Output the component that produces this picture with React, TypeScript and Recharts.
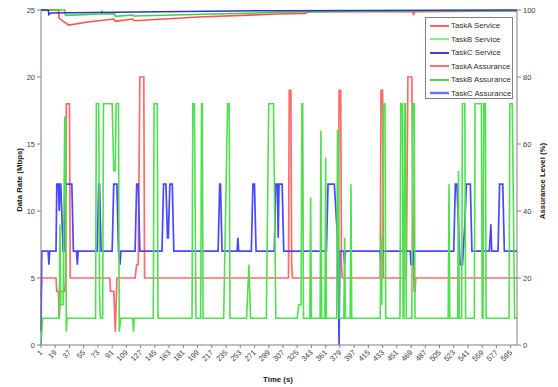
import React from 'react';
import { LineChart, Line, XAxis, YAxis } from 'recharts';

const timeTicks = [1, 19, 37, 55, 73, 91, 109, 127, 145, 163, 181, 199, 217, 235, 253, 271, 289, 307, 325, 343, 361, 379, 397, 415, 433, 451, 469, 487, 505, 523, 541, 559, 577, 595];
const rateTicks = [0, 5, 10, 15, 20, 25];
const assuranceTicks = [0, 20, 40, 60, 80, 100];

// [time, Mbps] change points
const taskAService: [number, number][] = [
  [1, 3.5], [2, 5], [20, 5], [21, 4], [23, 4], [24, 2], [25, 3], [26, 4], [31, 4], [32, 5], [33, 18], [37, 18], [38, 5],
  [88, 5], [89, 4], [93, 4], [95, 1], [97, 5],
  [120, 5], [122, 6], [124, 6], [126, 20], [131, 20], [132, 5],
  [314, 5], [315, 19], [317, 19], [318, 6], [319, 5],
  [377, 5], [378, 19], [380, 19], [381, 6], [382, 5],
  [430, 5], [431, 19], [433, 19], [434, 5],
  [463, 5], [465, 20], [467, 20], [470, 20], [472, 6], [473, 4], [474, 4], [475, 5],
  [603, 5],
];

const taskBService: [number, number][] = [
  [1, 0], [2, 1], [3, 2], [22, 2], [24, 2], [25, 9], [26, 3], [29, 3], [31, 17], [32, 17], [33, 1], [34, 2],
  [70, 2], [71, 18], [74, 18], [75, 4], [76, 2], [79, 2], [80, 18], [91, 18], [93, 13], [95, 13], [96, 18], [99, 18], [100, 1], [102, 2],
  [117, 2], [118, 1], [119, 2],
  [143, 2], [144, 18], [148, 18], [149, 2],
  [192, 2], [193, 18], [195, 18], [197, 2], [203, 2], [204, 18], [205, 18], [206, 2],
  [232, 2], [237, 18], [239, 18], [240, 2],
  [261, 2], [264, 6], [266, 2],
  [286, 2], [289, 18], [295, 18], [298, 2],
  [325, 2], [327, 3], [330, 3], [331, 18], [332, 18], [333, 2],
  [341, 2], [342, 11], [343, 2],
  [354, 2], [355, 16], [356, 2], [360, 2], [361, 14], [362, 2],
  [375, 2], [376, 16], [377, 16], [378, 2],
  [384, 2], [385, 8], [386, 2],
  [392, 2], [393, 12], [394, 2],
  [430, 2], [431, 8], [432, 3], [434, 18], [436, 18], [437, 2],
  [455, 2], [456, 18], [458, 18], [459, 2], [460, 2], [461, 18], [462, 18], [463, 2],
  [470, 2], [471, 18], [473, 18], [474, 2],
  [516, 2], [517, 12], [518, 2],
  [528, 2], [529, 13], [530, 2], [533, 2], [534, 18], [537, 18], [538, 2],
  [549, 2], [550, 18], [558, 18], [559, 2], [560, 2], [561, 18], [563, 18], [564, 2],
  [593, 2], [594, 18], [597, 18], [600, 2], [603, 2],
];

const taskCService: [number, number][] = [
  [1, 1], [2, 7], [10, 7], [11, 6], [12, 7], [20, 7], [21, 12], [23, 12], [24, 10], [25, 12], [26, 12], [29, 7], [30, 7], [32, 12], [40, 12], [42, 7],
  [46, 7], [47, 6], [48, 7],
  [72, 7], [74, 12], [75, 12], [77, 7],
  [91, 7], [93, 12], [97, 12], [99, 7], [101, 6], [102, 7],
  [120, 7], [122, 12], [124, 12], [126, 7],
  [154, 7], [156, 12], [159, 12], [161, 8], [162, 8], [164, 12], [167, 12], [169, 7],
  [225, 7], [227, 12], [228, 12], [230, 7],
  [249, 7], [250, 8], [251, 7],
  [267, 7], [269, 12], [271, 12], [273, 7],
  [296, 7], [298, 12], [300, 12], [301, 8], [302, 12], [306, 12], [308, 7],
  [362, 7], [364, 12], [372, 12], [375, 9], [376, 8], [378, 0], [379, 7], [384, 7], [385, 6], [386, 7],
  [430, 7], [431, 6], [432, 6], [433, 7],
  [468, 7], [469, 6], [471, 6], [472, 7],
  [523, 7], [525, 12], [527, 12], [529, 9], [531, 6], [534, 6], [537, 9], [539, 12], [544, 12], [546, 7],
  [568, 7], [570, 9], [571, 7],
  [579, 7], [581, 12], [585, 12], [587, 7], [603, 7],
];

// [time, %] assurance levels
const taskAAssurance: [number, number][] = [
  [1, 100], [23, 100], [24, 97.5], [36, 95.5], [60, 96.4], [93, 97.3], [95, 96.6], [117, 97.3], [119, 96.8], [200, 97.9], [300, 98.8], [335, 99.0], [340, 99.5], [471, 99.6], [472, 98.8], [474, 99.5], [603, 99.7],
];

const taskBAssurance: [number, number][] = [
  [1, 100], [31, 100], [32, 98.4], [77, 98.8], [78, 99.8], [79, 98.8], [94, 98.9], [95, 98.1], [117, 98.5], [118, 98.2], [300, 99.3], [400, 99.6], [603, 99.8],
];

const taskCAssurance: [number, number][] = [
  [1, 100], [10, 100], [11, 98.6], [13, 99.1], [150, 99.5], [300, 99.8], [603, 100],
];

const legendItems = [
  { name: 'TaskA Service', color: '#ff3030', width: 1.5 },
  { name: 'TaskB Service', color: '#30e830', width: 1.2 },
  { name: 'TaskC Service', color: '#1010c8', width: 1.6 },
  { name: 'TaskA Assurance', color: '#ff7070', width: 2 },
  { name: 'TaskB Assurance', color: '#10c810', width: 1.5 },
  { name: 'TaskC Assurance', color: '#7070ff', width: 2.5 },
];

const pts = (arr: [number, number][]) => arr.map(([t, v]) => ({ t, v }));

const FONT = '"Liberation Sans", Arial, sans-serif';

const TimeTick = (props: any) => {
  const { x, y, payload } = props;
  const ax = x + 2;
  const ay = y + 3;
  return (
    <text x={ax} y={ay} transform={`rotate(-45 ${ax} ${ay})`} textAnchor="end" fontSize={7.5} fill="#404040" fontFamily={FONT}>
      {payload.value}
    </text>
  );
};

const LegendBox = () => (
  <div style={{ position: 'absolute', left: 425, top: 17, width: 88, height: 82, border: '1px solid #808080', background: '#fff', boxSizing: 'border-box', paddingTop: 1 }}>
    {legendItems.map((it) => (
      <div key={it.name} style={{ display: 'flex', alignItems: 'center', height: 13.5, fontFamily: FONT, fontSize: 7.8, color: '#303030', whiteSpace: 'nowrap' }}>
        <svg width={22} height={6} style={{ marginLeft: 3 }}>
          <line x1={1} y1={3} x2={20} y2={3} stroke={it.color} strokeWidth={it.width} />
        </svg>
        <span>{it.name}</span>
      </div>
    ))}
  </div>
);

export default function App() {
  return (
    <div style={{ position: 'absolute', left: 0, top: 0, width: 558, height: 387, background: '#fff' }}>
      <LineChart width={558} height={387} margin={{ top: 10, right: 0, bottom: 0, left: 0 }}>
        <XAxis
          type="number"
          dataKey="t"
          domain={[1, 603]}
          ticks={timeTicks}
          interval={0}
          height={42}
          tick={<TimeTick />}
          tickSize={3}
          tickLine={{ stroke: '#808080' }}
          axisLine={{ stroke: '#808080' }}
        />
        <YAxis
          yAxisId="rate"
          domain={[0, 25]}
          ticks={rateTicks}
          width={41}
          tickSize={4}
          tickLine={{ stroke: '#808080' }}
          axisLine={{ stroke: '#808080' }}
          tick={{ fontSize: 7.5, fill: '#404040', fontFamily: FONT }}
        />
        <YAxis
          yAxisId="assurance"
          orientation="right"
          domain={[0, 100]}
          ticks={assuranceTicks}
          width={41}
          tickSize={4}
          tickLine={{ stroke: '#808080' }}
          axisLine={{ stroke: '#808080' }}
          tick={{ fontSize: 7.5, fill: '#404040', fontFamily: FONT }}
        />
        <Line yAxisId="assurance" data={pts(taskAAssurance)} dataKey="v" name="TaskA Assurance" stroke="#ff5050" strokeWidth={1.6} dot={false} isAnimationActive={false} />
        <Line yAxisId="assurance" data={pts(taskBAssurance)} dataKey="v" name="TaskB Assurance" stroke="#40d040" strokeWidth={1.5} dot={false} isAnimationActive={false} />
        <Line yAxisId="assurance" data={pts(taskCAssurance)} dataKey="v" name="TaskC Assurance" stroke="#3030d0" strokeWidth={1.5} dot={false} isAnimationActive={false} />
        <Line yAxisId="rate" data={pts(taskAService)} dataKey="v" name="TaskA Service" stroke="#ff6a6a" strokeWidth={1.7} dot={false} isAnimationActive={false} />
        <Line yAxisId="rate" data={pts(taskCService)} dataKey="v" name="TaskC Service" stroke="#4848ff" strokeWidth={1.7} dot={false} isAnimationActive={false} />
        <Line yAxisId="rate" data={pts(taskBService)} dataKey="v" name="TaskB Service" stroke="#4ee04e" strokeWidth={1.6} dot={false} isAnimationActive={false} />
      </LineChart>
      <LegendBox />
      <div style={{ position: 'absolute', left: 19, top: 180, transform: 'translate(-50%, -50%) rotate(-90deg)', fontFamily: FONT, fontSize: 7.8, fontWeight: 'bold', color: '#202020', whiteSpace: 'nowrap' }}>
        Data Rate (Mbps)
      </div>
      <div style={{ position: 'absolute', left: 542, top: 181, transform: 'translate(-50%, -50%) rotate(-90deg)', fontFamily: FONT, fontSize: 7.8, fontWeight: 'bold', color: '#202020', whiteSpace: 'nowrap' }}>
        Assurance Level (%)
      </div>
      <div style={{ position: 'absolute', left: 278, top: 379, transform: 'translate(-50%, -50%)', fontFamily: FONT, fontSize: 7.8, fontWeight: 'bold', color: '#202020', whiteSpace: 'nowrap' }}>
        Time (s)
      </div>
    </div>
  );
}
